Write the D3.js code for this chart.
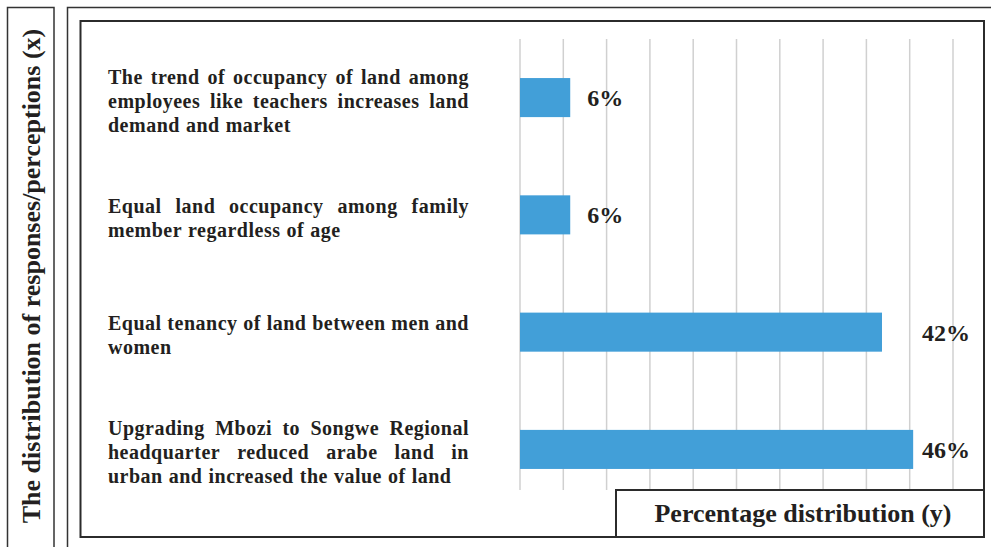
<!DOCTYPE html>
<html><head><meta charset="utf-8">
<script src="https://cdn.jsdelivr.net/npm/d3@7"></script>
<style>html,body{margin:0;padding:0;background:#fff;}svg{display:block;}</style>
</head><body>
<svg id="c" width="991" height="547"></svg>
<script>
const categories = [
  ["The trend of occupancy of land among", "employees like teachers increases land", "demand and market"],
  ["Equal land occupancy among family", "member regardless of age"],
  ["Equal tenancy of land between men and", "women"],
  ["Upgrading Mbozi to Songwe Regional", "headquarter reduced arabe land in", "urban and increased the value of land"]
];
const values = [5.8, 5.8, 41.8, 45.4];
const valueLabels = ["6%", "6%", "42%", "46%"];
const gridTicks = [0, 5, 10, 15, 20, 25, 30, 35, 40, 45, 50];
const yTitle = "The distribution of responses/perceptions (x)";
const xTitle = "Percentage distribution (y)";

const svg = d3.select("#c");
const FONT = "'Liberation Serif','Times New Roman',serif";
const INK = "#231f20";

// frames
svg.append("rect").attr("x", 7.5).attr("y", 7.5).attr("width", 46.5).attr("height", 560)
  .attr("fill", "none").attr("stroke", "#333").attr("stroke-width", 1.5);
svg.append("rect").attr("x", 67.5).attr("y", 7.5).attr("width", 940).attr("height", 560)
  .attr("fill", "none").attr("stroke", "#333").attr("stroke-width", 1.5);
svg.append("rect").attr("x", 80.5).attr("y", 21).attr("width", 903.5).attr("height", 516)
  .attr("fill", "none").attr("stroke", "#2b2b2b").attr("stroke-width", 2);

const x = d3.scaleLinear().domain([0, 50]).range([520, 953]);
const y = d3.scaleBand().domain(d3.range(categories.length)).range([39, 508])
  .paddingInner(0.667).paddingOuter(0.333);

// gridlines
svg.append("g").selectAll("line").data(gridTicks).join("line")
  .attr("x1", d => x(d)).attr("x2", d => x(d))
  .attr("y1", 39).attr("y2", 490)
  .attr("stroke", "#d0d0d0").attr("stroke-width", 1.5);

// bars
svg.append("g").selectAll("rect").data(values).join("rect")
  .attr("x", x(0)).attr("y", (d, i) => y(i))
  .attr("width", d => x(d) - x(0)).attr("height", y.bandwidth())
  .attr("fill", "#429fd8");

// value labels
svg.append("g").selectAll("text").data(values).join("text")
  .attr("x", d => d > 30 ? x(50) + 17 : x(d) + 17)
  .attr("text-anchor", d => d > 30 ? "end" : "start")
  .attr("y", (d, i) => y(i) + y.bandwidth() / 2)
  .attr("dy", "0.35em")
  .attr("font-family", FONT).attr("font-weight", "bold").attr("font-size", 24)
  .attr("fill", INK)
  .text((d, i) => valueLabels[i]);

// category labels (justified)
const LX0 = 108, LX1 = 469, LH = 24, CFS = 20;
categories.forEach((lines, i) => {
  const cy = y(i) + y.bandwidth() / 2 + 3;
  const top = cy - (lines.length - 1) * LH / 2;
  lines.forEach((line, j) => {
    const words = line.split(" ");
    const g = svg.append("g");
    const ty = top + j * LH;
    const nodes = words.map(w => g.append("text")
      .attr("y", ty).attr("dy", "0.35em")
      .attr("font-family", FONT).attr("font-weight", "bold").attr("font-size", CFS)
      .attr("letter-spacing", 0.5)
      .attr("fill", INK).text(w));
    const widths = nodes.map(n => n.node().getComputedTextLength());
    const total = d3.sum(widths);
    const last = j === lines.length - 1;
    const gap = (!last && words.length > 1) ? (LX1 - LX0 - total) / (words.length - 1) : CFS * 0.3;
    let cx = LX0;
    nodes.forEach((n, k) => { n.attr("x", cx); cx += widths[k] + gap; });
  });
});

// y title
svg.append("text")
  .attr("transform", "translate(31,276) rotate(-90)")
  .attr("text-anchor", "middle").attr("dy", "0.35em")
  .attr("font-family", FONT).attr("font-weight", "bold").attr("font-size", 26)
  .attr("fill", INK).text(yTitle);

// x title box
svg.append("rect").attr("x", 616).attr("y", 490).attr("width", 368).attr("height", 47)
  .attr("fill", "#fff").attr("stroke", "#2b2b2b").attr("stroke-width", 2);
svg.append("text").attr("x", 803).attr("y", 513).attr("dy", "0.35em")
  .attr("text-anchor", "middle")
  .attr("font-family", FONT).attr("font-weight", "bold").attr("font-size", 26)
  .attr("fill", INK).text(xTitle);
</script>
</body></html>
